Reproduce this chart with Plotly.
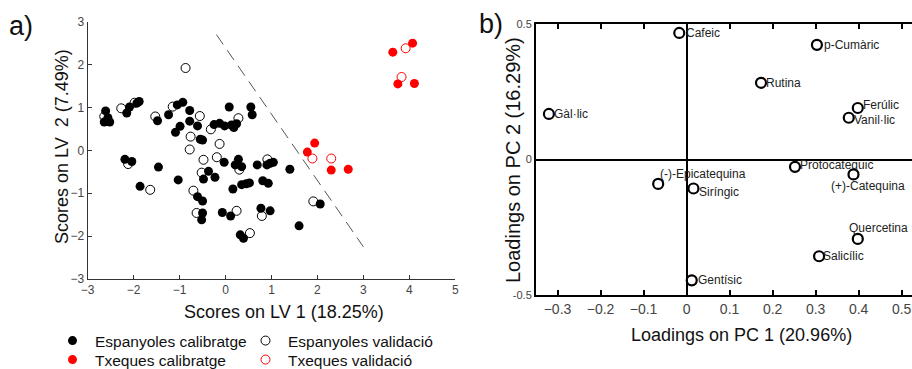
import plotly.graph_objects as go

# ---------------- Panel a) PLS-DA scores ----------------
esp_cal_x = [-2.61, -2.56, -2.64, -2.52, -2.15, -2.09, -1.93, -1.88, -1.48, -1.24,
             -1.05, -0.93, -0.78, -0.78, -0.99, -1.09, -0.61, -0.55, -0.50, -0.25,
             -0.13, -0.02, 0.13, 0.18, 0.24, 0.08, 0.55, 0.58, -2.19, -2.04,
             -1.46, -1.86, -1.03, -0.03, 0.28, 0.21, 0.35, 0.69, 0.97, 1.04,
             0.90, 1.40, -0.37, -0.48, -0.23, 0.16, 0.35, 0.45, 0.52, 0.81,
             0.93, -0.61, -0.50, -0.50, -0.52, -0.07, 0.11, 0.77, 0.97, 0.32,
             0.39, 2.06, 1.60]
esp_cal_y = [0.92, 0.76, 0.66, 0.66, 0.87, 1.01, 1.10, 1.14, 0.69, 0.83,
             1.06, 1.12, 0.93, 0.68, 0.56, 0.42, 0.57, 0.26, 0.24, 0.60,
             0.63, 0.57, 0.59, 0.53, 0.62, 1.01, 1.01, 0.83, -0.21, -0.26,
             -0.39, -0.84, -0.69, -0.28, -0.21, -0.34, -0.38, -0.34, -0.30, -0.28,
             -0.34, -0.44, -0.49, -0.67, -0.63, -0.90, -0.80, -0.78, -0.76, -0.71,
             -0.77, -1.08, -1.18, -1.46, -1.62, -1.45, -1.53, -1.35, -1.41, -1.97,
             -2.05, -1.25, -1.76]

esp_val_x = [-0.87, -2.64, -2.27, -1.98, -1.53, -1.15, -0.56, -0.32, 0.28, -0.76,
             -0.13, -0.78, -2.12, -0.48, -0.19, 0.30, 0.91, -0.52, -1.64, -0.70,
             -0.63, 0.24, 0.79, 0.53, 1.91]
esp_val_y = [1.92, 0.79, 0.98, 1.11, 0.79, 1.02, 0.80, 0.49, 0.75, 0.32,
             0.15, 0.02, -0.32, -0.22, -0.16, -0.45, -0.21, -0.52, -0.92, -0.94,
             -1.46, -1.41, -1.53, -1.93, -1.19]

txe_cal_x = [4.07, 3.64, 3.75, 4.11, 1.94, 1.78, 2.30, 2.67]
txe_cal_y = [2.50, 2.29, 1.55, 1.56, 0.17, -0.04, -0.46, -0.44]

txe_val_x = [3.92, 3.83, 1.89, 2.30]
txe_val_y = [2.38, 1.71, -0.19, -0.19]

boundary_x = [-0.2, 3.0]
boundary_y = [2.7, -2.25]

# ---------------- Panel b) PCA loadings ----------------
load_names = ["Cafeic", "Gàl·lic", "(-)-Epicatequina", "Siríngic", "Gentísic",
              "p-Cumàric", "Rutina", "Ferúlic", "Vanil·lic", "Protocatequic",
              "(+)-Catequina", "Quercetina", "Salicílic"]
pc1 = [-0.017, -0.32, -0.066, 0.016, 0.012, 0.303, 0.173, 0.398, 0.377, 0.252,
       0.388, 0.398, 0.308]
pc2 = [0.467, 0.168, -0.090, -0.107, -0.446, 0.423, 0.283, 0.190, 0.154, -0.027,
       -0.055, -0.293, -0.357]
# label offsets in pixels from the marker centre (dx right, dy up)
label_dx = [6.5, 5, 1.7, 5.3, 6.5, 7, 5, 5.6, 5.6, 5.3, -22.7, -9, 4.4]
label_dy = [0, 0, 10, -3, 0, 0, 0, 3, -2, 2, -12, 11, 0]

W, H = 912, 369

def px_x(p):
    return p / W

def px_y(p):
    return 1 - p / H

fig = go.Figure()

fig.add_trace(go.Scatter(x=boundary_x, y=boundary_y, mode="lines",
                         line=dict(color="#555555", width=1, dash="12px,7px"),
                         showlegend=False, hoverinfo="skip", xaxis="x", yaxis="y"))

fig.add_trace(go.Scatter(x=esp_cal_x, y=esp_cal_y, mode="markers", name="Espanyoles calibratge",
                         marker=dict(symbol="circle", size=9, color="black"),
                         xaxis="x", yaxis="y", legend="legend"))
fig.add_trace(go.Scatter(x=esp_val_x, y=esp_val_y, mode="markers", name="Espanyoles validació",
                         marker=dict(symbol="circle-open", size=9, color="black", line=dict(width=1)),
                         xaxis="x", yaxis="y", legend="legend"))
fig.add_trace(go.Scatter(x=txe_cal_x, y=txe_cal_y, mode="markers", name="Txeques calibratge",
                         marker=dict(symbol="circle", size=9, color="#ff0000"),
                         xaxis="x", yaxis="y", legend="legend2"))
fig.add_trace(go.Scatter(x=txe_val_x, y=txe_val_y, mode="markers", name="Txeques validació",
                         marker=dict(symbol="circle-open", size=9, color="#ff0000", line=dict(width=1)),
                         xaxis="x", yaxis="y", legend="legend2"))

fig.add_trace(go.Scatter(x=pc1, y=pc2, mode="markers", showlegend=False,
                         marker=dict(symbol="circle-open", size=10, color="black", line=dict(width=2.2)),
                         xaxis="x2", yaxis="y2"))

annotations = []
for n, xv, yv, dx, dy in zip(load_names, pc1, pc2, label_dx, label_dy):
    annotations.append(dict(x=xv, y=yv, xref="x2", yref="y2", text=n, showarrow=False,
                            xanchor="left", yanchor="middle", xshift=dx - 2, yshift=dy,
                            font=dict(size=12, color="#222222")))

title_font = dict(family="Liberation Sans, Arial", size=18, color="#111111")
annotations += [
    dict(x=px_x(284), y=px_y(312), xref="paper", yref="paper", text="Scores on LV 1 (18.25%)",
         showarrow=False, xanchor="center", yanchor="middle", font=title_font),
    dict(x=px_x(62), y=px_y(147), xref="paper", yref="paper", text="Scores on LV  2 (7.49%)",
         showarrow=False, xanchor="center", yanchor="middle", textangle=-90, font=title_font),
    dict(x=px_x(741), y=px_y(335), xref="paper", yref="paper", text="Loadings on PC 1 (20.96%)",
         showarrow=False, xanchor="center", yanchor="middle", font=title_font),
    dict(x=px_x(513), y=px_y(160), xref="paper", yref="paper", text="Loadings on PC 2 (16.29%)",
         showarrow=False, xanchor="center", yanchor="middle", textangle=-90,
         font=dict(family="Liberation Sans, Arial", size=20, color="#111111")),
    dict(x=px_x(21), y=px_y(26), xref="paper", yref="paper", text="a)",
         showarrow=False, xanchor="center", yanchor="middle",
         font=dict(family="Liberation Sans, Arial", size=27, color="#111111")),
    dict(x=px_x(491), y=px_y(24), xref="paper", yref="paper", text="b)",
         showarrow=False, xanchor="center", yanchor="middle",
         font=dict(family="Liberation Sans, Arial", size=27, color="#111111")),
]

left_axis = dict(showgrid=False, zeroline=False, showline=True, linecolor="#333333", linewidth=1,
                 ticks="inside", ticklen=4, tickcolor="#333333", dtick=1,
                 tickfont=dict(size=12, color="#444444"), mirror=False)

legend_common = dict(orientation="h", xanchor="left", yanchor="middle",
                     itemwidth=35, entrywidth=143, entrywidthmode="pixels",
                     bgcolor="rgba(0,0,0,0)", font=dict(size=15.5, color="#111111"),
                     itemclick=False, itemdoubleclick=False)

fig.update_layout(
    width=W, height=H, margin=dict(l=0, r=0, t=0, b=0, autoexpand=False),
    paper_bgcolor="white", plot_bgcolor="white",
    font=dict(family="Liberation Sans, Arial", color="#111111"),
    xaxis=dict(domain=[px_x(87.7), px_x(455.3)], range=[-3, 5], anchor="y", **left_axis),
    yaxis=dict(domain=[px_y(279), px_y(21.7)], range=[-3, 3], anchor="x", **left_axis),
    xaxis2=dict(domain=[px_x(536), 1.0], range=[-0.35, 0.524], anchor="y2",
                showgrid=False, zeroline=True, zerolinecolor="black", zerolinewidth=2,
                showline=True, linecolor="black", linewidth=2, mirror="ticks",
                ticks="inside", ticklen=5, tickcolor="black", tickwidth=1.5, dtick=0.1,
                tickfont=dict(size=14, color="#444444")),
    yaxis2=dict(domain=[px_y(295), px_y(24)], range=[-0.5, 0.5], anchor="x2",
                showgrid=False, zeroline=True, zerolinecolor="black", zerolinewidth=2,
                showline=True, linecolor="black", linewidth=2, mirror=False,
                ticks="inside", ticklen=4, tickcolor="black",
                tickvals=[-0.5, 0, 0.5], ticktext=["-0.5", "0", "0.5"],
                tickfont=dict(size=11, color="#444444")),
    legend=dict(x=px_x(50), y=px_y(341), **legend_common),
    legend2=dict(x=px_x(50), y=px_y(360), **legend_common),
    annotations=annotations,
    showlegend=True,
)

fig.write_html("out.html", config={"displayModeBar": False},
               post_script="document.body.style.margin='0';")
